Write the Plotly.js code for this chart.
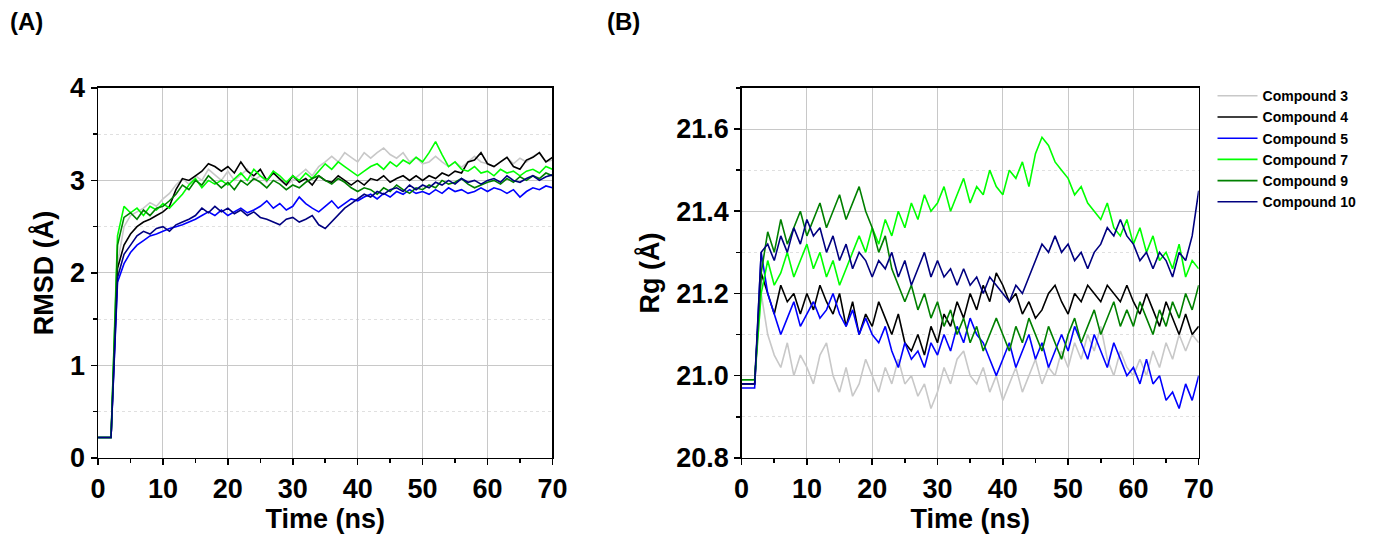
<!DOCTYPE html>
<html>
<head>
<meta charset="utf-8">
<script src="https://cdn.plot.ly/plotly-3.0.1.min.js"></script>
<style>html,body{margin:0;padding:0;background:#fff}#chart{width:1381px;height:553px}</style>
</head>
<body>
<div id="chart"></div>
<script>
// time axis, ns (one sample per ns)
const timeNs = Array.from({ length: 71 }, (_, i) => i);

const compoundNames = ['Compound 3', 'Compound 4', 'Compound 5', 'Compound 7', 'Compound 9', 'Compound 10'];
const compoundColors = ['#c8c8c8', '#000000', '#0000ff', '#00ff00', '#008000', '#000080'];

// RMSD (Å)
const rmsd3 = [0.22,0.22,0.22,2.10,2.50,2.62,2.66,2.70,2.76,2.72, 2.80,2.86,2.95,3.02,2.96,3.05,3.00,3.12,3.06,3.00, 3.10,3.00,3.06,3.12,3.00,3.05,2.98,3.10,3.00,2.95, 3.00,3.06,3.12,3.05,3.15,3.20,3.26,3.20,3.30,3.25, 3.20,3.30,3.24,3.30,3.35,3.28,3.24,3.30,3.20,3.25, 3.18,3.20,3.26,3.20,3.15,3.20,3.14,3.20,3.26,3.20, 3.18,3.15,3.20,3.25,3.18,3.24,3.20,3.26,3.30,3.20, 3.22];
const rmsd4 = [0.22,0.22,0.22,2.05,2.30,2.42,2.50,2.55,2.58,2.62, 2.66,2.72,2.90,3.02,3.00,3.05,3.10,3.18,3.15,3.10, 3.15,3.08,3.20,3.10,3.05,3.12,3.00,3.08,3.02,2.95, 3.05,2.98,3.02,2.95,3.05,3.00,2.98,3.05,3.00,2.95, 3.00,2.95,3.02,3.00,3.05,2.98,3.02,3.05,3.00,3.05, 3.00,3.05,3.02,3.08,3.05,3.10,3.08,3.20,3.22,3.30, 3.18,3.15,3.20,3.25,3.15,3.12,3.22,3.25,3.30,3.20, 3.25];
const rmsd5 = [0.22,0.22,0.22,1.90,2.10,2.22,2.30,2.35,2.40,2.42, 2.45,2.48,2.50,2.52,2.55,2.58,2.62,2.66,2.62,2.68, 2.62,2.66,2.70,2.65,2.68,2.72,2.78,2.70,2.75,2.68, 2.72,2.82,2.75,2.70,2.66,2.72,2.78,2.70,2.75,2.80, 2.78,2.82,2.85,2.80,2.86,2.82,2.88,2.85,2.90,2.86, 2.88,2.85,2.90,2.86,2.92,2.88,2.90,2.86,2.88,2.92, 2.88,2.92,2.90,2.86,2.90,2.82,2.88,2.92,2.90,2.94, 2.92];
const rmsd7 = [0.22,0.22,0.22,2.40,2.72,2.65,2.70,2.62,2.72,2.68, 2.75,2.70,2.78,2.85,2.95,3.02,2.92,3.00,2.96,3.00, 2.95,3.02,3.08,3.00,3.12,3.05,3.00,3.10,3.05,2.98, 3.05,3.00,3.08,3.02,3.10,3.18,3.12,3.20,3.15,3.10, 3.05,3.10,3.15,3.18,3.12,3.20,3.15,3.22,3.18,3.25, 3.20,3.30,3.42,3.28,3.15,3.20,3.12,3.10,3.15,3.08, 3.10,3.05,3.12,3.08,3.10,3.05,3.10,3.12,3.08,3.15, 3.12];
const rmsd9 = [0.22,0.22,0.22,2.30,2.60,2.65,2.58,2.68,2.62,2.70, 2.72,2.78,2.85,2.95,2.90,3.00,2.95,3.05,2.98,2.92, 2.98,2.90,3.00,2.95,3.02,2.98,2.92,3.00,2.96,2.90, 2.95,2.92,2.98,3.02,3.05,3.00,2.96,3.02,2.98,2.92, 2.88,2.92,2.90,2.85,2.92,2.88,2.95,2.90,2.86,2.92, 2.90,2.95,2.92,3.00,2.96,2.98,3.02,2.96,2.92,2.95, 2.98,3.00,2.96,3.02,2.98,3.04,3.00,3.05,3.02,3.08, 3.05];
const rmsd10 = [0.22,0.22,0.22,1.95,2.20,2.30,2.40,2.45,2.42,2.48, 2.50,2.45,2.52,2.55,2.58,2.62,2.70,2.65,2.72,2.66, 2.70,2.64,2.68,2.62,2.66,2.60,2.58,2.55,2.52,2.58, 2.60,2.55,2.58,2.62,2.52,2.48,2.55,2.62,2.70,2.75, 2.80,2.85,2.82,2.88,2.85,2.90,2.92,2.88,2.95,2.90, 2.95,2.92,2.98,2.95,3.00,2.96,3.02,2.98,3.00,2.96, 3.00,3.02,2.98,3.05,3.00,2.98,3.02,3.05,3.00,3.04, 3.06];

// Radius of gyration (Å)
const rg3 = [20.98,20.98,20.98,21.20,21.10,21.05,21.02,21.08,21.00,21.05, 21.02,20.98,21.05,21.08,21.00,20.96,21.02,20.95,20.98,21.04, 21.00,20.96,21.02,20.98,21.04,20.98,21.00,20.95,20.98,20.92, 20.96,21.02,20.98,21.04,21.06,21.00,20.98,21.02,20.96,21.00, 20.94,20.98,21.02,20.96,21.00,21.04,20.98,21.02,21.00,21.06, 21.02,21.08,21.04,21.10,21.06,21.12,21.04,21.00,21.06,21.02, 21.00,21.04,21.00,21.06,21.02,21.08,21.04,21.10,21.06,21.10, 21.08];
const rg4 = [20.98,20.98,20.98,21.25,21.20,21.15,21.22,21.18,21.20,21.15, 21.20,21.16,21.22,21.18,21.15,21.20,21.12,21.18,21.10,21.15, 21.12,21.18,21.14,21.10,21.15,21.08,21.06,21.10,21.05,21.12, 21.08,21.15,21.12,21.18,21.14,21.20,21.16,21.22,21.18,21.25, 21.22,21.18,21.20,21.15,21.18,21.14,21.16,21.20,21.22,21.18, 21.15,21.20,21.18,21.22,21.20,21.18,21.22,21.20,21.18,21.22, 21.18,21.15,21.20,21.16,21.12,21.18,21.14,21.10,21.15,21.10, 21.12];
const rg5 = [20.97,20.97,20.97,21.30,21.20,21.15,21.10,21.14,21.18,21.12, 21.15,21.18,21.14,21.16,21.20,21.15,21.12,21.16,21.10,21.14, 21.10,21.08,21.12,21.06,21.02,21.08,21.04,21.06,21.02,21.08, 21.05,21.10,21.06,21.12,21.08,21.14,21.10,21.08,21.04,21.00, 21.04,21.08,21.02,21.06,21.10,21.04,21.08,21.02,21.06,21.10, 21.06,21.12,21.08,21.04,21.10,21.06,21.02,21.08,21.04,21.00, 21.02,20.98,21.04,20.98,21.00,20.94,20.96,20.92,20.98,20.94, 21.00];
const rg7 = [20.99,20.99,20.99,21.20,21.28,21.22,21.25,21.30,21.24,21.28, 21.32,21.26,21.30,21.24,21.28,21.22,21.26,21.30,21.34,21.30, 21.36,21.32,21.38,21.34,21.40,21.36,21.42,21.38,21.44,21.40, 21.42,21.46,21.40,21.44,21.48,21.42,21.46,21.44,21.50,21.46, 21.44,21.50,21.48,21.52,21.46,21.54,21.58,21.56,21.52,21.50, 21.48,21.44,21.46,21.42,21.40,21.38,21.42,21.36,21.34,21.38, 21.32,21.36,21.30,21.34,21.28,21.30,21.26,21.32,21.24,21.28, 21.26];
const rg9 = [20.99,20.99,20.99,21.25,21.35,21.30,21.38,21.32,21.36,21.40, 21.34,21.38,21.42,21.36,21.40,21.44,21.38,21.42,21.46,21.40, 21.36,21.30,21.34,21.26,21.22,21.18,21.22,21.16,21.20,21.14, 21.18,21.12,21.16,21.10,21.14,21.08,21.12,21.06,21.10,21.14, 21.10,21.06,21.12,21.08,21.14,21.10,21.06,21.12,21.08,21.04, 21.10,21.14,21.08,21.12,21.16,21.10,21.14,21.18,21.12,21.16, 21.12,21.18,21.14,21.10,21.16,21.12,21.18,21.14,21.20,21.16, 21.22];
const rg10 = [20.98,20.98,20.98,21.30,21.32,21.28,21.34,21.30,21.36,21.32, 21.38,21.34,21.36,21.30,21.34,21.28,21.32,21.26,21.30,21.28, 21.24,21.28,21.26,21.30,21.24,21.28,21.22,21.26,21.30,21.24, 21.28,21.24,21.26,21.22,21.26,21.22,21.24,21.20,21.24,21.22, 21.20,21.18,21.22,21.20,21.24,21.28,21.32,21.30,21.34,21.30, 21.32,21.28,21.30,21.26,21.30,21.32,21.36,21.34,21.38,21.34, 21.32,21.28,21.30,21.26,21.30,21.28,21.24,21.30,21.28,21.34, 21.45];

const rmsdSeries = [rmsd3, rmsd4, rmsd5, rmsd7, rmsd9, rmsd10];
const rgSeries = [rg3, rg4, rg5, rg7, rg9, rg10];

const font = 'Liberation Sans Narrow, Liberation Sans, Arial, sans-serif';
const plainFont = 'Liberation Sans, Arial, sans-serif';

const traces = [];
rmsdSeries.forEach((y, i) => {
  traces.push({
    x: timeNs, y: y, xaxis: 'x', yaxis: 'y', mode: 'lines',
    line: { color: compoundColors[i], width: 1.6 },
    name: compoundNames[i], showlegend: false,
  });
});
rgSeries.forEach((y, i) => {
  traces.push({
    x: timeNs, y: y, xaxis: 'x2', yaxis: 'y2', mode: 'lines',
    line: { color: compoundColors[i], width: 1.6 },
    name: compoundNames[i],
  });
});

// shared axis look
const axisBase = {
  showline: true, mirror: true, linecolor: '#000', linewidth: 1.5,
  ticks: 'outside', ticklen: 6, tickwidth: 1.5, tickcolor: '#000',
  showgrid: true, gridcolor: '#c8c8c8', gridwidth: 1,
  zeroline: false,
  tickfont: { family: font, size: 27, color: '#000', weight: 'bold' },
  title: { font: { family: font, size: 27, color: '#000', weight: 'bold' } },
};

const xAxis = (domain, anchor) => ({
  ...axisBase, domain: domain, anchor: anchor,
  range: [0, 70], dtick: 10,
  minor: { dtick: 5, ticks: 'outside', ticklen: 4, tickcolor: '#000', showgrid: false },
  title: { ...axisBase.title, text: 'Time (ns)', standoff: 4 },
});

const layout = {
  width: 1381, height: 553,
  margin: { l: 0, r: 0, t: 0, b: 0 },
  paper_bgcolor: '#fff', plot_bgcolor: '#fff',
  showlegend: true,
  legend: {
    x: 0.878, y: 0.855, xanchor: 'left', yanchor: 'top',
    font: { family: plainFont, size: 14, color: '#000', weight: 'bold' },
    tracegroupgap: 0, itemwidth: 40,
  },
  xaxis: xAxis([0.071, 0.400], 'y'),
  yaxis: {
    ...axisBase, domain: [0.172, 0.841], anchor: 'x',
    range: [0, 4], dtick: 1,
    minor: { dtick: 0.5, showgrid: true, gridcolor: '#e0e0e0', griddash: 'dot', ticks: 'outside', ticklen: 4, tickcolor: '#000' },
    title: { ...axisBase.title, text: 'RMSD (Å)', standoff: 8 },
  },
  xaxis2: xAxis([0.537, 0.868], 'y2'),
  yaxis2: {
    ...axisBase, domain: [0.172, 0.841], anchor: 'x2',
    range: [20.8, 21.7], tick0: 20.8, dtick: 0.2, tickformat: '.1f',
    minor: { dtick: 0.1, showgrid: true, gridcolor: '#e0e0e0', griddash: 'dot', ticks: 'outside', ticklen: 4, tickcolor: '#000' },
    title: { ...axisBase.title, text: 'Rg (Å)', standoff: 8 },
  },
  annotations: [
    { text: '(A)', x: 0.006, y: 0.99, xref: 'paper', yref: 'paper', xanchor: 'left', yanchor: 'top', showarrow: false,
      font: { family: plainFont, size: 24, color: '#000', weight: 'bold' } },
    { text: '(B)', x: 0.438, y: 0.99, xref: 'paper', yref: 'paper', xanchor: 'left', yanchor: 'top', showarrow: false,
      font: { family: plainFont, size: 24, color: '#000', weight: 'bold' } },
  ],
};

Plotly.newPlot('chart', traces, layout, { displayModeBar: false, staticPlot: true });
</script>
</body>
</html>
